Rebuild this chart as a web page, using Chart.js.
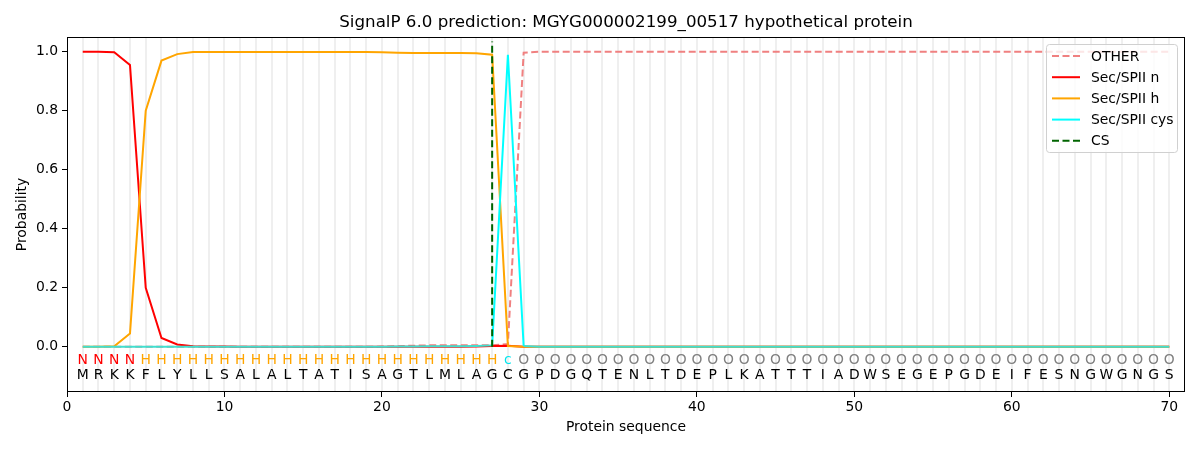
<!DOCTYPE html>
<html>
<head>
<meta charset="utf-8">
<script src="https://cdn.jsdelivr.net/npm/chart.js@4"></script>
<style>
  html, body { margin: 0; padding: 0; background: #fff; }
  #wrap { width: 1200px; height: 450px; }
</style>
</head>
<body>
<div id="wrap"><canvas id="chart" width="1200" height="450"></canvas></div>
<script>
const titleText = "SignalP 6.0 prediction: MGYG000002199_00517 hypothetical protein";
const sequence = "MRKKFLYLLSALALTATISAGTLMLAGCGPDGQTENLTDEPLKATTTIADWSEGEPGDEIFESNGWGNGS".split("");
const stateLabels = ("NNNN" + "H".repeat(23) + "c" + "O".repeat(42)).split("");
const positions = sequence.map((_, i) => i + 1);

const otherProb = [0, 0, 0, 0, 0, 0, 0, 0, 0, 0,
  0, 0, 0, 0, 0, 0, 0, 0, 0, 0.001,
  0.002, 0.004, 0.005, 0.005, 0.005, 0.005, 0.005, 0.01, 0.997, 1,
  1, 1, 1, 1, 1, 1, 1, 1, 1, 1,
  1, 1, 1, 1, 1, 1, 1, 1, 1, 1,
  1, 1, 1, 1, 1, 1, 1, 1, 1, 1,
  1, 1, 1, 1, 1, 1, 1, 1, 1, 1];
const nProb = [1, 1, 0.998, 0.955, 0.2, 0.03, 0.008, 0.002, 0.001, 0.001,
  0, 0, 0, 0, 0, 0, 0, 0, 0, 0,
  0, 0, 0, 0, 0, 0.001, 0.003, 0.004, 0, 0,
  0, 0, 0, 0, 0, 0, 0, 0, 0, 0,
  0, 0, 0, 0, 0, 0, 0, 0, 0, 0,
  0, 0, 0, 0, 0, 0, 0, 0, 0, 0,
  0, 0, 0, 0, 0, 0, 0, 0, 0, 0];
const hProb = [0, 0, 0.002, 0.045, 0.8, 0.97, 0.992, 0.999, 0.999, 0.999,
  0.999, 0.999, 0.999, 0.999, 0.999, 0.999, 0.999, 0.999, 0.999, 0.998,
  0.997, 0.996, 0.996, 0.996, 0.996, 0.995, 0.99, 0.003, 0, 0,
  0, 0, 0, 0, 0, 0, 0, 0, 0, 0,
  0, 0, 0, 0, 0, 0, 0, 0, 0, 0,
  0, 0, 0, 0, 0, 0, 0, 0, 0, 0,
  0, 0, 0, 0, 0, 0, 0, 0, 0, 0];
const cysProb = [0, 0, 0, 0, 0, 0, 0, 0, 0, 0,
  0, 0, 0, 0, 0, 0, 0, 0, 0, 0,
  0.001, 0.001, 0.002, 0.002, 0.002, 0.003, 0.005, 0.99, 0.003, 0,
  0, 0, 0, 0, 0, 0, 0, 0, 0, 0,
  0, 0, 0, 0, 0, 0, 0, 0, 0, 0,
  0, 0, 0, 0, 0, 0, 0, 0, 0, 0,
  0, 0, 0, 0, 0, 0, 0, 0, 0, 0];
const csX = [27, 27];
const csY = [0, 1.035];

const xTicks = [0, 10, 20, 30, 40, 50, 60, 70];
const yTicks = [0, 0.2, 0.4, 0.6, 0.8, 1.0];

const stateColor = { N: "#ff0000", H: "#ffa500", c: "#00e5ee", O: "#808080" };
const FONT = "DejaVu Sans";

const pts = arr => arr.map((v, i) => ({ x: positions[i], y: v }));

// text, frame and legend drawn the matplotlib way
const overlay = {
  id: "overlay",
  afterDraw(chart) {
    const c = chart.ctx, a = chart.chartArea;
    const xs = chart.scales.x, ys = chart.scales.y;
    c.save();
    c.fillStyle = "#000";
    c.textAlign = "center";
    c.textBaseline = "middle";
    c.font = "16.7px '" + FONT + "'";
    c.fillText(titleText, (a.left + a.right) / 2, 23);

    c.font = "13.9px '" + FONT + "'";
    c.fillText("Protein sequence", (a.left + a.right) / 2, 427);
    c.save();
    c.translate(22, (a.top + a.bottom) / 2);
    c.rotate(-Math.PI / 2);
    c.fillText("Probability", 0, 0);
    c.restore();

    positions.forEach((p, i) => {
      const px = xs.getPixelForValue(p);
      c.fillStyle = stateColor[stateLabels[i]];
      c.fillText(stateLabels[i], px, ys.getPixelForValue(-0.046));
      c.fillStyle = "#000";
      c.fillText(sequence[i], px, ys.getPixelForValue(-0.098));
    });

    c.strokeStyle = "#000";
    c.lineWidth = 1;
    c.strokeRect(a.left + 0.5, a.top + 0.5, a.right - a.left - 1, a.bottom - a.top - 1);

    // legend
    const lx = 1046.5, ly = 44.5, lw = 131, lh = 108;
    c.fillStyle = "rgba(255,255,255,0.8)";
    c.strokeStyle = "#d0d0d0";
    c.beginPath();
    c.roundRect(lx, ly, lw, lh, 3);
    c.fill();
    c.stroke();
    const items = [...chart.data.datasets].sort((p, q) => p.legendRank - q.legendRank);
    items.forEach((ds, i) => {
      const y = 56 + i * 21.2;
      c.strokeStyle = ds.borderColor;
      c.lineWidth = 2;
      c.setLineDash(ds.borderDash || []);
      c.beginPath();
      c.moveTo(1052, y);
      c.lineTo(1080, y);
      c.stroke();
      c.setLineDash([]);
      c.fillStyle = "#000";
      c.textAlign = "left";
      c.fillText(ds.label, 1091, y + 1);
    });
    c.restore();
  }
};

new Chart(document.getElementById("chart"), {
  type: "line",
  data: {
    datasets: [
      { label: "OTHER", legendRank: 0, data: pts(otherProb), borderColor: "#f08080",
        borderDash: [7, 3.5], order: 4 },
      { label: "Sec/SPII n", legendRank: 1, data: pts(nProb), borderColor: "#ff0000", order: 3 },
      { label: "Sec/SPII h", legendRank: 2, data: pts(hProb), borderColor: "#ffa500", order: 2 },
      { label: "Sec/SPII cys", legendRank: 3, data: pts(cysProb), borderColor: "#00ffff", order: 1,
        segment: { borderColor: s => (s.p0.parsed.y < 0.01 && s.p1.parsed.y < 0.01) ? "#40e0d0" : "#00ffff" } },
      { label: "CS", legendRank: 4, data: csX.map((x, i) => ({ x, y: csY[i] })), borderColor: "#006400",
        borderDash: [7, 3.5], order: 0 }
    ]
  },
  options: {
    responsive: false,
    animation: false,
    devicePixelRatio: 1,
    layout: { padding: { top: 37, right: 15, left: 0, bottom: 0 } },
    elements: { point: { radius: 0 }, line: { borderWidth: 2, tension: 0 } },
    plugins: { legend: { display: false }, title: { display: false }, tooltip: { enabled: false } },
    scales: {
      x: {
        type: "linear", position: "bottom", min: 0, max: 71,
        afterBuildTicks: s => { s.ticks = xTicks.map(v => ({ value: v })); },
        afterFit: s => { s.height = 58; },
        ticks: { color: "#000", font: { family: FONT, size: 13.9 }, padding: 2, maxRotation: 0 },
        grid: { drawOnChartArea: false, tickLength: 5, color: "#000" },
        border: { display: false }
      },
      grid: {
        type: "linear", position: "top", min: 0, max: 71,
        afterBuildTicks: s => { s.ticks = positions.map(v => ({ value: v })); },
        afterFit: s => { s.height = 0; },
        ticks: { display: false },
        grid: { drawTicks: false, color: "#efefef", lineWidth: 2 },
        border: { display: false }
      },
      y: {
        min: -0.153, max: 1.05,
        afterBuildTicks: s => { s.ticks = yTicks.map(v => ({ value: v })); },
        afterFit: s => { s.width = 67; },
        ticks: { color: "#000", font: { family: FONT, size: 13.9 }, padding: 4,
          callback: v => v.toFixed(1) },
        grid: { drawOnChartArea: false, tickLength: 5, color: "#000" },
        border: { display: false }
      }
    }
  },
  plugins: [overlay]
});
</script>
</body>
</html>
